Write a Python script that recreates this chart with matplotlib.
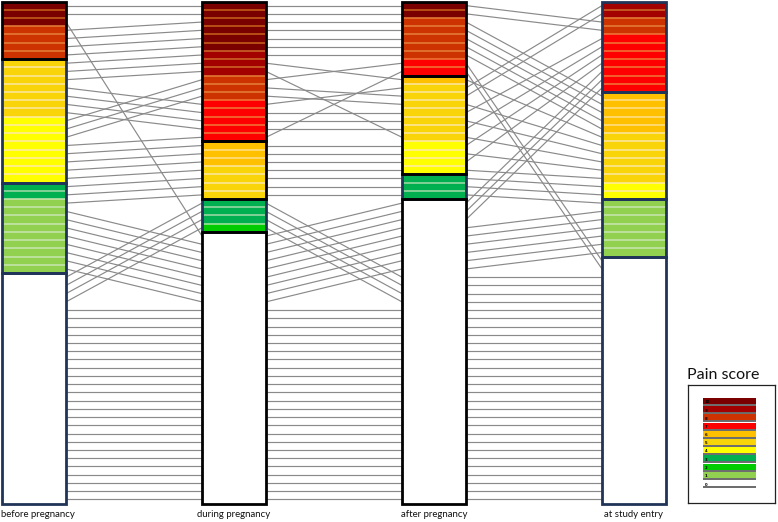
import matplotlib
matplotlib.use('Agg')
import matplotlib.pyplot as plt
from matplotlib.patches import Rectangle
from matplotlib.collections import LineCollection

# ---------------- data ----------------
timepoints = ['before pregnancy', 'during pregnancy', 'after pregnancy', 'at study entry']

# pain score of each of the 61 patients (patient 0 .. 60) at every time point
before = [10, 10, 10, 8, 8, 8, 8, 5, 5, 5, 5, 5, 5, 5, 4, 4, 4, 4, 4, 4, 4, 4,
          3, 3, 1, 1, 1, 1, 1, 1, 1, 1, 1,
          0, 0, 0, 0, 0, 0, 0, 0, 0, 0, 0, 0, 0, 0, 0, 0, 0, 0, 0, 0, 0, 0, 0, 0, 0, 0, 0, 0]
during = [10, 10, 0, 10, 10, 10, 10, 9, 9, 9, 7, 7, 7, 7, 8, 8, 8, 7, 6, 6, 6, 5,
          5, 5, 5, 0, 0, 0, 0, 0, 0, 0, 0,
          3, 3, 3, 2, 0, 0, 0, 0, 0, 0, 0, 0, 0, 0, 0, 0, 0, 0, 0, 0, 0, 0, 0, 0, 0, 0, 0, 0]
after = [10, 10, 0, 8, 8, 8, 8, 8, 6, 5, 5, 5, 5, 5, 7, 5, 5, 7, 4, 4, 4, 4,
         3, 3, 3, 0, 0, 0, 0, 0, 0, 0, 0,
         0, 0, 0, 0, 0, 0, 0, 0, 0, 0, 0, 0, 0, 0, 0, 0, 0, 0, 0, 0, 0, 0, 0, 0, 0, 0, 0, 0]
entry = [8, 8, 7, 6, 6, 6, 6, 6, 5, 5, 9, 7, 5, 7, 0, 9, 5, 0, 7, 5, 7, 5,
         4, 4, 1, 7, 7, 1, 1, 1, 1, 1, 1,
         0, 0, 0, 0, 0, 0, 0, 0, 0, 0, 0, 0, 0, 0, 0, 0, 0, 0, 0, 0, 0, 0, 0, 0, 0, 0, 0, 0]
scores = [before, during, after, entry]

# order of the patients (top to bottom) in each stacked column
order_before = list(range(61))
order_during = [0, 1, 3, 4, 5, 6, 7, 8, 9, 14, 15, 16, 10, 11, 12, 13, 17, 18, 19, 20, 21, 22,
                23, 24, 33, 34, 35, 36, 2, 25, 26, 27, 28, 29, 30, 31, 32] + list(range(37, 61))
order_after = [0, 1, 3, 4, 5, 6, 7, 14, 17, 8, 10, 15, 16, 11, 12, 13, 9, 18, 19, 20, 21, 22,
               23, 24, 2, 25, 26, 27, 28, 29, 30, 31, 32, 33, 34, 35, 36] + list(range(37, 61))
order_entry = [10, 15, 0, 1, 11, 13, 18, 20, 2, 25, 26, 3, 4, 5, 6, 7, 8, 16, 12, 9, 19, 21,
               22, 23, 24, 27, 28, 29, 30, 31, 32, 14, 17] + list(range(33, 61))
orders = [order_before, order_during, order_after, order_entry]

legend_scores = [10, 9, 8, 7, 6, 5, 4, 3, 2, 1, 0]

# ---------------- styles ----------------
fill = {10: '#7a0000', 9: '#a30000', 8: '#cc3300', 7: '#ff0000', 6: '#ffc000',
        5: '#f8d408', 4: '#ffff00', 3: '#00b050', 2: '#00cc00', 1: '#92d050', 0: '#ffffff'}
stripe = {10: '#c8641e', 9: '#cf6a2a', 8: '#e6803a', 7: '#f07a3a', 6: '#ffe08c',
          5: '#fbe7a4', 4: '#ffeaa8', 3: '#a3dba8', 2: '#a8e6a0', 1: '#c8e6b0'}
NAVY, BLACK = '#1f3458', '#000000'
groups = [('severe', 7, 10), ('moderate', 4, 6), ('mild', 1, 3), ('none', 0, 0)]
box_color = [
    {'severe': BLACK, 'moderate': NAVY, 'mild': NAVY, 'none': NAVY},
    {'severe': BLACK, 'moderate': BLACK, 'mild': NAVY, 'none': BLACK},
    {'severe': BLACK, 'moderate': BLACK, 'mild': NAVY, 'none': BLACK},
    {'severe': NAVY, 'moderate': NAVY, 'mild': NAVY, 'none': NAVY},
]
LABEL_FONT = ['Lato', 'DejaVu Sans']

W, H, DPI = 778, 522, 100
fig = plt.figure(figsize=(W / DPI, H / DPI), dpi=DPI)
ax = fig.add_axes([0, 0, 1, 1])
n = len(before)
px_unit = 200.0
row_px = 502.0 / n
ax.set_xlim(-34 / px_unit, -34 / px_unit + W / px_unit)
ax.set_ylim((H - 1.5) / row_px, -1.5 / row_px)
ax.axis('off')
bw = 64 / px_unit

# row position of each patient in each column
rowpos = []
for order in orders:
    pos = [0] * n
    for r, p in enumerate(order):
        pos[p] = r
    rowpos.append(pos)

# connecting lines
segs = []
for c in range(len(timepoints) - 1):
    for p in range(n):
        segs.append([(c + bw / 2, rowpos[c][p] + 0.5), (c + 1 - bw / 2, rowpos[c + 1][p] + 0.5)])
ax.add_collection(LineCollection(segs, colors='#8a8a8a', linewidths=0.85, zorder=1))

# stacked columns
for c in range(len(timepoints)):
    col_scores = [scores[c][p] for p in orders[c]]
    x0 = c - bw / 2
    granges = []
    for name, lo, hi in groups:
        rows = [r for r, s in enumerate(col_scores) if lo <= s <= hi]
        if rows:
            granges.append((name, min(rows), max(rows) + 1))
    for r, s in enumerate(col_scores):
        ax.add_patch(Rectangle((x0, r), bw, 1, facecolor=fill[s], edgecolor='none', zorder=2))
    for r, s in enumerate(col_scores):
        if s > 0 and not any(r == g[1] for g in granges):
            ax.plot([x0, x0 + bw], [r, r], color=stripe[s], lw=1.1, zorder=3,
                    solid_capstyle='butt')
    for colr in (NAVY, BLACK):
        for name, a, b in granges:
            if box_color[c][name] == colr:
                ax.add_patch(Rectangle((x0, a), bw, b - a, fill=False, edgecolor=colr,
                                       lw=2.0, zorder=4 if colr == NAVY else 5))
    if c == 0:
        ax.text(x0 - 1 / px_unit, n + 1.3, timepoints[c], ha='left', va='center',
                fontsize=6.9, family=LABEL_FONT, color='#111111')
    else:
        ax.text(c, n + 1.3, timepoints[c], ha='center', va='center', fontsize=6.9,
                family=LABEL_FONT, color='#111111')

# legend
fig.text(723.5 / W, 1 - 375 / H, 'Pain score', ha='center', va='center', fontsize=11.5,
         family=['Lato', 'DejaVu Sans'], color='#111111')
lax = fig.add_axes([688 / W, 1 - 503 / H, 87 / W, 118 / H])
lax.set_xlim(0, 87)
lax.set_ylim(118, 0)
lax.set_xticks([])
lax.set_yticks([])
for sp in lax.spines.values():
    sp.set_linewidth(0.9)
    sp.set_color('#222222')
for i, s in enumerate(legend_scores):
    top = 13 + i * 8.2
    if s > 0:
        lax.add_patch(Rectangle((15, top), 53, 6.4, facecolor=fill[s], edgecolor='none'))
    lax.plot([15, 68], [top + 7.0, top + 7.0], color='#6a6a6a', lw=1.4,
             solid_capstyle='butt')
    lax.text(17, top + 4.3 if s > 0 else top + 5.0, str(s), fontsize=2.8, fontweight='bold',
             ha='left', va='center', color='#000000')

fig.savefig('out.png', dpi=DPI)
